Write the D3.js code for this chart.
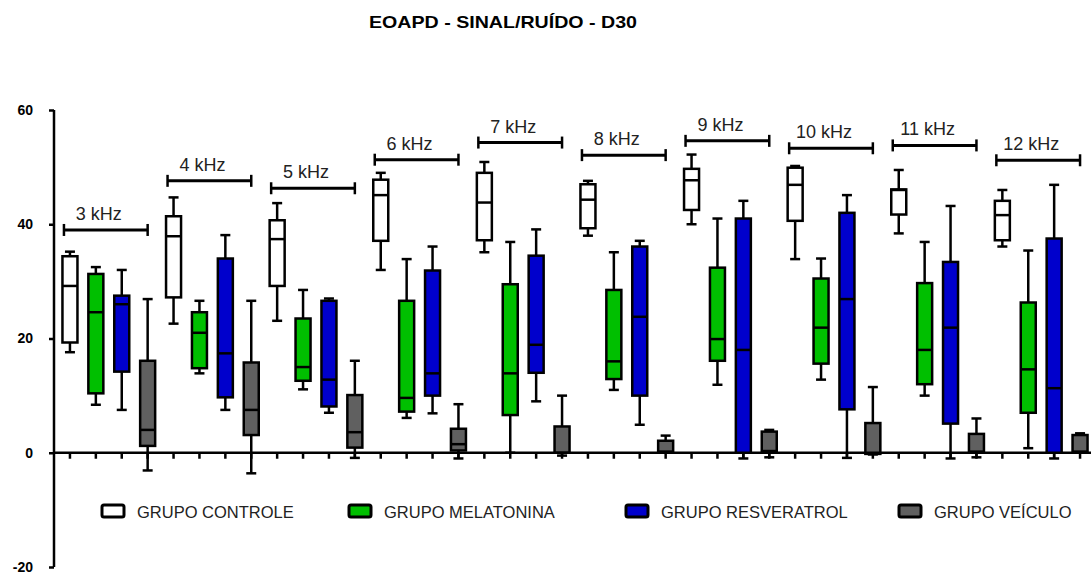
<!DOCTYPE html>
<html>
<head>
<meta charset="utf-8">
<script src="https://cdn.jsdelivr.net/npm/d3@7"></script>
<style>
  body { margin: 0; background: #fff; }
  svg { display: block; font-family: "Liberation Sans", Arial, sans-serif; }
</style>
</head>
<body>
<div id="chart"></div>
<script>
// frequencies and groups
const frequencies = ['3 kHz', '4 kHz', '5 kHz', '6 kHz', '7 kHz', '8 kHz', '9 kHz', '10 kHz', '11 kHz', '12 kHz'];
const groups = ['GRUPO CONTROLE', 'GRUPO MELATONINA', 'GRUPO RESVERATROL', 'GRUPO VEÍCULO'];

// five-number summaries per frequency: [min, q1, median, q3, max]
const controle = [
  [17.6, 19.3, 29.2, 34.4, 35.2],
  [22.6, 27.2, 37.9, 41.4, 44.7],
  [23.1, 29.2, 37.4, 40.7, 43.7],
  [32.0, 37.1, 45.1, 47.8, 49.0],
  [35.1, 37.2, 43.8, 49.0, 50.9],
  [38.0, 39.3, 44.3, 47.0, 47.6],
  [40.0, 42.5, 47.7, 49.7, 52.2],
  [33.9, 40.6, 46.9, 49.9, 50.2],
  [38.4, 41.7, 46.0, 46.1, 49.5],
  [36.1, 37.2, 41.6, 44.1, 46.0]
];
const melatonina = [
  [8.4, 10.4, 24.6, 31.3, 32.5],
  [13.9, 14.8, 21.0, 24.6, 26.6],
  [11.1, 12.6, 15.0, 23.5, 28.5],
  [6.1, 7.2, 9.6, 26.6, 33.9],
  [0.0, 6.6, 13.9, 29.5, 36.9],
  [11.0, 12.9, 16.0, 28.5, 35.1],
  [11.9, 16.1, 19.9, 32.4, 41.0],
  [12.8, 15.6, 21.9, 30.5, 34.0],
  [10.0, 12.0, 18.0, 29.7, 36.9],
  [0.8, 7.0, 14.6, 26.3, 35.4]
];
const resveratrol = [
  [7.5, 14.2, 26.0, 27.5, 32.0],
  [7.5, 9.7, 17.4, 34.0, 38.1],
  [7.0, 8.1, 12.8, 26.6, 27.0],
  [6.9, 10.0, 13.9, 31.9, 36.1],
  [9.0, 14.0, 18.9, 34.5, 39.1],
  [4.9, 10.0, 23.8, 36.1, 37.1],
  [-1.0, 0.0, 18.0, 41.0, 44.1],
  [-0.9, 7.6, 26.9, 42.0, 45.1],
  [-1.0, 5.1, 21.9, 33.4, 43.2],
  [-1.0, 0.0, 11.3, 37.5, 46.9]
];
const veiculo = [
  [-3.1, 1.2, 4.0, 16.1, 26.9],
  [-3.6, 3.1, 7.5, 15.8, 26.6],
  [-0.9, 0.9, 3.6, 10.1, 16.1],
  [-1.0, 0.4, 1.5, 4.2, 8.5],
  [-0.5, 0.0, 0.0, 4.6, 10.0],
  [0.0, 0.1, 0.2, 2.1, 3.0],
  [-0.8, 0.0, 0.3, 3.7, 4.0],
  [-0.3, -0.2, 0.0, 5.2, 11.5],
  [-0.8, 0.0, 0.2, 3.3, 6.0],
  [0.0, 0.0, 0.2, 3.1, 3.4]
];

// height (in dB) of the frequency bracket above each cluster
const bracketLevels = [39.0, 47.6, 46.3, 51.3, 54.3, 52.1, 54.6, 53.3, 53.8, 51.2];

const yTicks = [-20, 0, 20, 40, 60];

const seriesData = [controle, melatonina, resveratrol, veiculo];
const fills = ['#ffffff', '#00bf00', '#0000cc', '#606060'];

const width = 1091;
const height = 575;

const svg = d3.select('#chart')
  .append('svg')
  .attr('width', width)
  .attr('height', height);

// title (the original is a bit stretched horizontally)
svg.append('text')
  .attr('x', 503)
  .attr('y', 28)
  .attr('text-anchor', 'middle')
  .attr('font-size', 17)
  .attr('font-weight', 'bold')
  .attr('textLength', 268)
  .attr('lengthAdjust', 'spacingAndGlyphs')
  .text('EOAPD - SINAL/RUÍDO - D30');

// one slot per (frequency, group)
const boxes = [];
frequencies.forEach((f, fi) => {
  groups.forEach((g, gi) => {
    const s = seriesData[gi][fi];
    boxes.push({ key: `${fi}-${gi}`, fi, gi, min: s[0], q1: s[1], med: s[2], q3: s[3], max: s[4] });
  });
});

const x = d3.scaleBand()
  .domain(boxes.map(d => d.key))
  .range([57, 1093])
  .paddingInner(0)
  .paddingOuter(0);

const y = d3.scaleLinear()
  .domain([-20, 60])
  .range([567, 110]);

const cx = k => x(k) + x.bandwidth() / 2;

// y axis (plain hyphen for negatives, as in the original)
const yAxis = svg.append('g')
  .attr('transform', 'translate(54,0)')
  .call(d3.axisLeft(y).tickValues(yTicks).tickFormat(d => String(d)).tickSize(5).tickPadding(16));
yAxis.select('.domain').attr('stroke', '#000').attr('stroke-width', 2.5).attr('d', `M0,${y(60)}V${y(-20)}`);
yAxis.selectAll('.tick line').attr('stroke', '#000').attr('stroke-width', 2.5);
yAxis.selectAll('.tick text')
  .attr('font-size', 14)
  .attr('font-weight', 'bold')
  .attr('font-family', '"Liberation Sans", Arial, sans-serif')
  .attr('fill', '#000');

// x axis on zero line
const xAxis = svg.append('g')
  .attr('transform', `translate(0,${y(0)})`)
  .call(d3.axisBottom(x).tickSize(6).tickFormat(''));
xAxis.select('.domain').attr('stroke', '#000').attr('stroke-width', 2.5).attr('d', `M54,0H${width}`);
xAxis.selectAll('.tick line').attr('stroke', '#000').attr('stroke-width', 2.5);

// boxplots
const boxW = 15;
const capW = 10;
const bx = svg.append('g').selectAll('g.box')
  .data(boxes)
  .enter()
  .append('g')
  .attr('class', 'box');

bx.append('line')
  .attr('x1', d => cx(d.key)).attr('x2', d => cx(d.key))
  .attr('y1', d => y(d.max)).attr('y2', d => y(d.min))
  .attr('stroke', '#000').attr('stroke-width', 2.5);

bx.append('line')
  .attr('x1', d => cx(d.key) - capW / 2).attr('x2', d => cx(d.key) + capW / 2)
  .attr('y1', d => y(d.max)).attr('y2', d => y(d.max))
  .attr('stroke', '#000').attr('stroke-width', 2.5);

bx.append('line')
  .attr('x1', d => cx(d.key) - capW / 2).attr('x2', d => cx(d.key) + capW / 2)
  .attr('y1', d => y(d.min)).attr('y2', d => y(d.min))
  .attr('stroke', '#000').attr('stroke-width', 2.5);

bx.append('rect')
  .attr('x', d => cx(d.key) - boxW / 2)
  .attr('width', boxW)
  .attr('y', d => y(d.q3))
  .attr('height', d => Math.max(1, y(d.q1) - y(d.q3)))
  .attr('fill', d => fills[d.gi])
  .attr('stroke', '#000')
  .attr('stroke-width', 2.5);

bx.append('line')
  .attr('x1', d => cx(d.key) - boxW / 2).attr('x2', d => cx(d.key) + boxW / 2)
  .attr('y1', d => y(d.med)).attr('y2', d => y(d.med))
  .attr('stroke', '#000').attr('stroke-width', 2.5);

// frequency brackets
const br = svg.append('g').selectAll('g.bracket')
  .data(frequencies)
  .enter()
  .append('g')
  .attr('class', 'bracket');

const brX1 = (d, i) => cx(`${i}-0`) - 6;
const brX2 = (d, i) => cx(`${i}-3`);

br.append('line')
  .attr('x1', brX1).attr('x2', brX2)
  .attr('y1', (d, i) => y(bracketLevels[i])).attr('y2', (d, i) => y(bracketLevels[i]))
  .attr('stroke', '#000').attr('stroke-width', 3);
br.append('line')
  .attr('x1', brX1).attr('x2', brX1)
  .attr('y1', (d, i) => y(bracketLevels[i]) - 6).attr('y2', (d, i) => y(bracketLevels[i]) + 6)
  .attr('stroke', '#000').attr('stroke-width', 2.5);
br.append('line')
  .attr('x1', brX2).attr('x2', brX2)
  .attr('y1', (d, i) => y(bracketLevels[i]) - 6).attr('y2', (d, i) => y(bracketLevels[i]) + 6)
  .attr('stroke', '#000').attr('stroke-width', 2.5);
br.append('text')
  .attr('x', (d, i) => (brX1(d, i) + brX2(d, i)) / 2 - 7)
  .attr('y', (d, i) => y(bracketLevels[i]) - 10)
  .attr('text-anchor', 'middle')
  .attr('font-size', 18)
  .attr('fill', '#222')
  .text(d => d);

// legend
const legendX = [101, 348, 625, 898];
const lg = svg.append('g').selectAll('g.legend')
  .data(groups)
  .enter()
  .append('g')
  .attr('class', 'legend')
  .attr('transform', (d, i) => `translate(${legendX[i]},511)`);

lg.append('rect')
  .attr('x', 1).attr('y', -6)
  .attr('width', 22).attr('height', 12)
  .attr('rx', 2)
  .attr('fill', (d, i) => fills[i])
  .attr('stroke', '#000')
  .attr('stroke-width', 3);

lg.append('text')
  .attr('x', 36)
  .attr('y', 6.5)
  .attr('font-size', 16.5)
  .attr('fill', '#222')
  .text(d => d);
</script>
</body>
</html>
